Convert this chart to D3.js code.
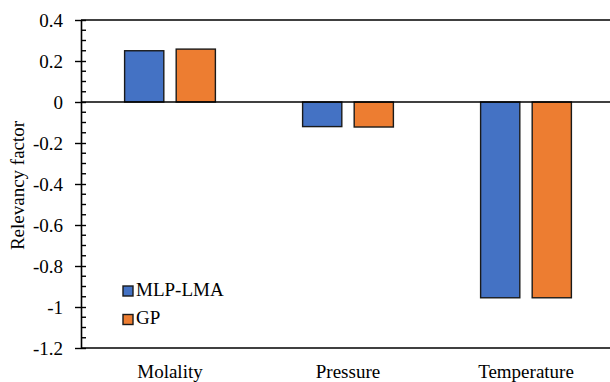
<!DOCTYPE html>
<html>
<head>
<meta charset="utf-8">
<script src="https://cdn.jsdelivr.net/npm/d3@7"></script>
<style>
  html, body { margin: 0; padding: 0; background: #fff; }
  svg { display: block; }
</style>
</head>
<body>
<svg id="chart" width="610" height="382"></svg>
<script>
// Relevancy factor of each input variable for the two models
const categories = ["Molality", "Pressure", "Temperature"];
const seriesNames = ["MLP-LMA", "GP"];
const mlpLmaValues = [0.25, -0.12, -0.955];
const gpValues = [0.258, -0.122, -0.955];
const yTickValues = [0.4, 0.2, 0, -0.2, -0.4, -0.6, -0.8, -1, -1.2];
const seriesColors = ["#4472C4", "#ED7D31"];

const FONT = "Liberation Serif, Times New Roman, Times, DejaVu Serif, serif";
const FS = 19;

const svg = d3.select("#chart")
  .attr("font-family", FONT);

const margin = { left: 81, top: 20, right: -5, bottom: 34 };
const W = 610, H = 382;

const x = d3.scaleBand()
  .domain(categories)
  .range([margin.left, W - margin.right]);

const y = d3.scaleLinear()
  .domain([-1.2, 0.4])
  .range([H - margin.bottom, margin.top]);

// bar pair occupies the middle half of each category band
const groupW = x.bandwidth() * 0.51;
const xInner = d3.scaleBand()
  .domain(seriesNames)
  .range([(x.bandwidth() - groupW) / 2, (x.bandwidth() + groupW) / 2])
  .paddingInner(0.24);

const series = [mlpLmaValues, gpValues];

// bars
const groups = svg.append("g").selectAll("g")
  .data(categories)
  .join("g")
  .attr("transform", d => `translate(${x(d)},0)`);

groups.selectAll("rect")
  .data((d, i) => seriesNames.map((s, j) => ({ s, j, v: series[j][i] })))
  .join("rect")
  .attr("x", d => xInner(d.s))
  .attr("width", xInner.bandwidth())
  .attr("y", d => y(Math.max(0, d.v)))
  .attr("height", d => Math.abs(y(d.v) - y(0)))
  .attr("fill", d => seriesColors[d.j])
  .attr("stroke", "#1a1a1a")
  .attr("stroke-width", 1.4);

// horizontal lines: top, zero and bottom
[0.4, 0, -1.2].forEach(v => {
  svg.append("line")
    .attr("x1", margin.left).attr("x2", W)
    .attr("y1", y(v)).attr("y2", y(v))
    .attr("stroke", "#000").attr("stroke-width", 1.4);
});

// y axis with major ticks crossing the spine
const yAxis = svg.append("g")
  .attr("transform", `translate(${margin.left},0)`)
  .call(d3.axisLeft(y)
    .tickValues(yTickValues)
    .tickFormat(d => String(+d.toFixed(1)))
    .tickSizeInner(6)
    .tickSizeOuter(0)
    .tickPadding(12));
yAxis.attr("font-family", FONT).attr("font-size", FS);
yAxis.select(".domain").attr("stroke", "#000").attr("stroke-width", 1.6);
yAxis.selectAll(".tick line").attr("stroke", "#000").attr("stroke-width", 1.4).attr("x2", 5).attr("x1", -6);
yAxis.selectAll(".tick text").attr("fill", "#000");

// minor ticks (inside) every 0.05
const minor = d3.range(-1.2, 0.4001, 0.05)
  .filter(v => Math.abs(Math.round(v * 5) - v * 5) > 1e-6);
svg.append("g").selectAll("line")
  .data(minor)
  .join("line")
  .attr("x1", margin.left).attr("x2", margin.left + 5)
  .attr("y1", d => y(d)).attr("y2", d => y(d))
  .attr("stroke", "#000").attr("stroke-width", 1.4);

// category labels
svg.append("g").selectAll("text")
  .data(categories)
  .join("text")
  .attr("x", d => x(d) + x.bandwidth() / 2)
  .attr("y", 378)
  .attr("text-anchor", "middle")
  .attr("font-size", FS)
  .text(d => d);

// y axis title
svg.append("text")
  .attr("transform", "translate(24,185.5) rotate(-90)")
  .attr("text-anchor", "middle")
  .attr("font-size", FS)
  .text("Relevancy factor");

// legend
const legend = svg.append("g").attr("transform", "translate(123,286)");
seriesNames.forEach((s, i) => {
  const g = legend.append("g").attr("transform", `translate(0,${i * 28.5})`);
  g.append("rect")
    .attr("width", 10).attr("height", 10)
    .attr("fill", seriesColors[i])
    .attr("stroke", "#1a1a1a").attr("stroke-width", 1.4);
  g.append("text")
    .attr("x", 13).attr("y", 9.5)
    .attr("font-size", FS)
    .text(s);
});
</script>
</body>
</html>
